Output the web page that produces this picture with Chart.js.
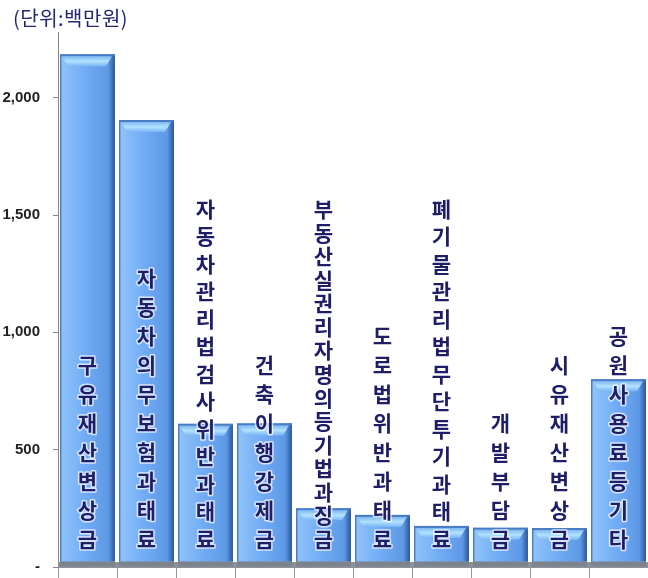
<!DOCTYPE html>
<html>
<head>
<meta charset="utf-8">
<script src="https://cdn.jsdelivr.net/npm/chart.js@4/dist/chart.umd.min.js"></script>
<style>
    html, body { margin: 0; padding: 0; background: #fff; }
    #wrap { position: relative; width: 648px; height: 578px; }
    #unit {
        position: absolute; left: 13px; top: 3px; letter-spacing: 0.5px;
        font: 20px "Noto Sans CJK KR", sans-serif; color: #26266f;
    }
</style>
</head>
<body>
<div id="wrap">
    <canvas id="chart" width="648" height="578"></canvas>
    <div id="unit">(단위:백만원)</div>
</div>
<script>
var categories = ['구유재산변상금', '자동차의무보험과태료', '자동차관리법검사위반과태료', '건축이행강제금',
    '부동산실권리자명의등기법과징금', '도로법위반과태료', '폐기물관리법무단투기과태료', '개발부담금',
    '시유재산변상금', '공원사용료등기타'];
var values = [2185, 1905, 610, 612, 250, 222, 175, 167, 166, 800];
var tickValues = [0, 500, 1000, 1500, 2000];

// bevelled bars + vertical labels
var barLook = {
    id: 'barLook',
    afterDatasetsDraw: function (chart) {
        var ctx = chart.ctx;
        var area = chart.chartArea;
        var bars = chart.getDatasetMeta(0).data;
        ctx.save();
        // grey floor
        ctx.fillStyle = '#8d9199';
        ctx.fillRect(area.left, area.bottom - 5, area.right - area.left, 6);
        bars.forEach(function (bar) {
            var l = bar.x - bar.width / 2, r = bar.x + bar.width / 2;
            var t = bar.y, b = bar.base;
            var g = ctx.createLinearGradient(l, 0, r, 0);
            g.addColorStop(0, '#3a68ad');
            g.addColorStop(0.04, '#8ec2f8');
            g.addColorStop(0.45, '#72acf5');
            g.addColorStop(0.88, '#5d98e6');
            g.addColorStop(1, '#2c5596');
            ctx.fillStyle = g;
            ctx.fillRect(l, t, r - l, b - t - 5);
            // top bevel
            ctx.fillStyle = '#4a7cc4';
            ctx.fillRect(l, t, r - l, 2);
            var tg = ctx.createLinearGradient(0, t + 2, 0, t + 12);
            tg.addColorStop(0, '#7fb9f2');
            tg.addColorStop(0.5, '#b2e2ff');
            tg.addColorStop(1, '#7ab4f5');
            ctx.fillStyle = tg;
            ctx.beginPath();
            ctx.moveTo(l + 2, t + 2);
            ctx.lineTo(r - 3, t + 2);
            ctx.lineTo(r - 9, t + 12);
            ctx.lineTo(l + 8, t + 12);
            ctx.closePath();
            ctx.fill();
            // bottom of bar
            ctx.fillStyle = '#7d828c';
            ctx.fillRect(l, b - 5, r - l, 5);
        });
        // labels
        ctx.font = 'bold 21px "Noto Sans CJK KR", sans-serif';
        ctx.textAlign = 'center';
        ctx.textBaseline = 'middle';
        ctx.lineJoin = 'round';
        bars.forEach(function (bar, i) {
            var chars = Array.from(categories[i]);
            var n = chars.length;
            var step = Math.min(29, 330 / (n - 1));
            chars.forEach(function (ch, k) {
                var y = area.bottom - 28 - (n - 1 - k) * step;
                ctx.strokeStyle = 'rgba(255,255,255,0.7)';
                ctx.lineWidth = 3;
                ctx.strokeText(ch, bar.x, y);
                ctx.fillStyle = '#1e1d66';
                ctx.fillText(ch, bar.x, y);
            });
        });
        ctx.restore();
    }
};

new Chart(document.getElementById('chart').getContext('2d'), {
    type: 'bar',
    data: {
        labels: categories,
        datasets: [{
            data: values,
            backgroundColor: '#72acf5',
            barPercentage: 0.93,
            categoryPercentage: 1.0
        }]
    },
    options: {
        responsive: false,
        animation: false,
        layout: { padding: { top: 32, right: 0, left: 0, bottom: 0 } },
        plugins: {
            legend: { display: false },
            tooltip: { enabled: false }
        },
        scales: {
            x: {
                offset: true,
                border: { display: false },
                grid: { offset: true, drawOnChartArea: false, tickLength: 11, color: '#999' },
                ticks: { display: false },
                afterFit: function (scale) { scale.height = 11; }
            },
            y: {
                min: 0,
                max: 2280,
                border: { color: '#888' },
                grid: { drawOnChartArea: false, tickLength: 5, color: '#888' },
                afterBuildTicks: function (scale) {
                    scale.ticks = tickValues.map(function (v) { return { value: v }; });
                },
                afterFit: function (scale) {
                    scale.width = 58;
                    scale.paddingTop = 0;
                    scale.paddingBottom = 0;
                },
                ticks: {
                    padding: 13,
                    color: '#222',
                    font: { family: '"Liberation Sans", Arial, sans-serif', size: 15, weight: 'bold' },
                    callback: function (v) {
                        return v === 0 ? '-' : v.toLocaleString('en-US');
                    }
                }
            }
        }
    },
    plugins: [barLook]
});
</script>
</body>
</html>
